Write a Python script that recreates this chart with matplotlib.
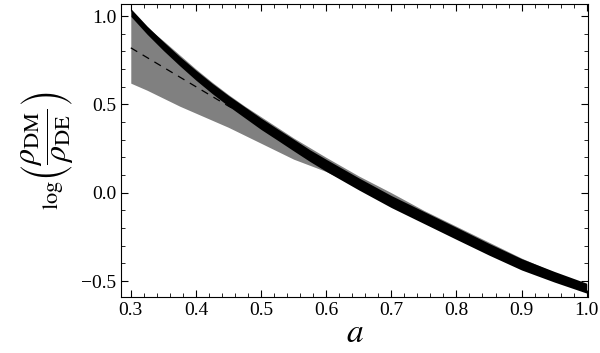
import matplotlib
matplotlib.use('Agg')
from matplotlib import pyplot as plt
from matplotlib.ticker import MultipleLocator
import numpy as np

plt.rcParams['font.family'] = 'Liberation Serif'
plt.rcParams['mathtext.fontset'] = 'stix'

# scale factor a
a = [0.300, 0.325, 0.350, 0.375, 0.400, 0.425, 0.450, 0.475, 0.500, 0.525, 0.550, 0.575,
     0.600, 0.650, 0.700, 0.750, 0.800, 0.850, 0.900, 0.950, 1.000]

# black band (centre and half width)
best = [1.02, 0.92, 0.83, 0.745, 0.665, 0.59, 0.52, 0.455, 0.39, 0.33, 0.27, 0.21,
        0.155, 0.05, -0.05, -0.14, -0.23, -0.32, -0.405, -0.475, -0.54]
best_hw = [0.022, 0.023, 0.025, 0.026, 0.028, 0.029, 0.030, 0.031, 0.032, 0.032, 0.033, 0.033,
           0.034, 0.034, 0.034, 0.034, 0.034, 0.033, 0.032, 0.030, 0.028]

# gray band
gray_hi = [1.00, 0.935, 0.86, 0.78, 0.70, 0.625, 0.555, 0.49, 0.43, 0.37, 0.31, 0.255,
           0.20, 0.095, 0.00, -0.10, -0.19, -0.28, -0.37, -0.45, -0.52]
gray_lo = [0.62, 0.58, 0.535, 0.49, 0.45, 0.41, 0.37, 0.325, 0.28, 0.235, 0.19, 0.155,
           0.12, 0.03, -0.07, -0.16, -0.25, -0.34, -0.42, -0.49, -0.55]

# dashed curve
dashed = [0.82, 0.765, 0.71, 0.655, 0.60, 0.545, 0.49, 0.44, 0.385, 0.33, 0.27, 0.215,
          0.16, 0.06, -0.03, -0.12, -0.21, -0.30, -0.385, -0.46, -0.53]

a = np.array(a)
best = np.array(best)
best_hw = np.array(best_hw)

fig = plt.figure(figsize=(6.0, 3.53), dpi=100)
ax = fig.add_axes([0.2017, 0.1586, 0.7783, 0.8301])

ax.fill_between(a, gray_lo, gray_hi, color='#808080', lw=0)
ax.fill_between(a, best - best_hw, best + best_hw, color='black', lw=0)
ax.plot(a, dashed, color='black', lw=0.9, dashes=(6, 5))

ax.set_xlim(0.285, 1.002)
ax.set_ylim(-0.59, 1.068)

ax.xaxis.set_major_locator(MultipleLocator(0.1))
ax.xaxis.set_minor_locator(MultipleLocator(0.02))
ax.yaxis.set_major_locator(MultipleLocator(0.5))
ax.yaxis.set_minor_locator(MultipleLocator(0.1))
ax.tick_params(which='both', direction='in', top=True, right=True, labelsize=14)
ax.tick_params(which='major', length=5, width=0.8)
ax.tick_params(which='minor', length=3, width=0.6)
ax.xaxis.set_major_formatter(plt.FuncFormatter(lambda v, p: f'{v:.1f}'))
ax.yaxis.set_major_formatter(plt.FuncFormatter(lambda v, p: f'{v:.1f}'.replace('-', '\u2212')))

ax.set_xlabel(r'$a$', fontsize=24, labelpad=0)
ax.set_ylabel(r'$_{\log}\!\left(\dfrac{\rho_{\rm DM}}{\rho_{\rm DE}}\right)$', fontsize=23, labelpad=4)

fig.savefig('out.png', dpi=100)
